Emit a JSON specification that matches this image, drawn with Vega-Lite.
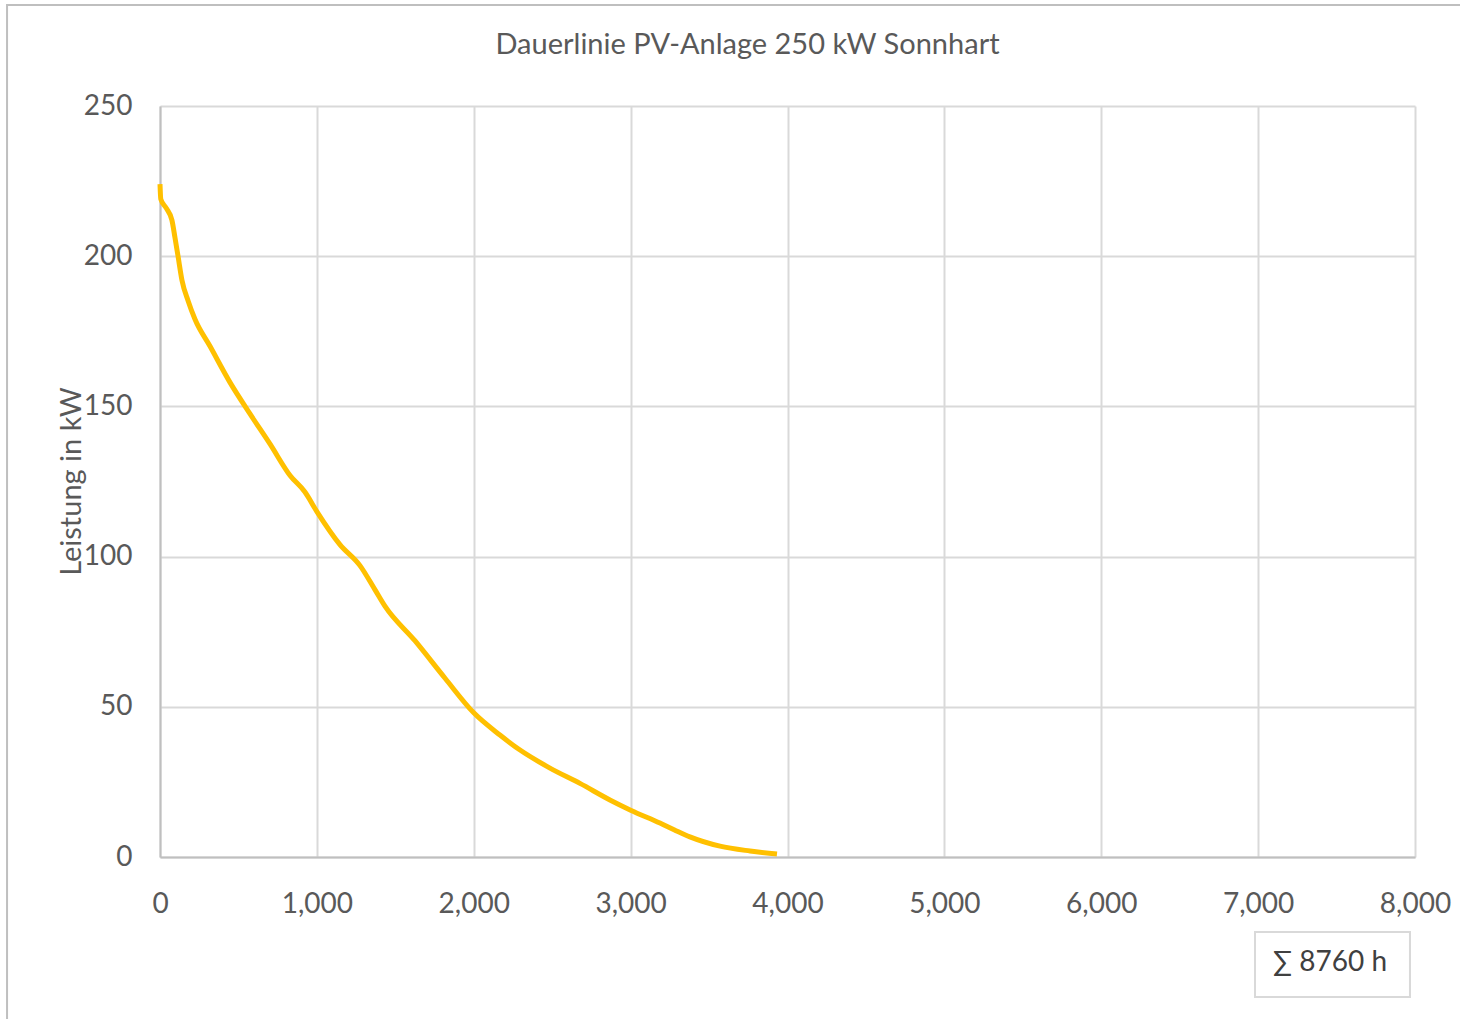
{
  "$schema": "https://vega.github.io/schema/vega-lite/v6.json",
  "width": 1255,
  "height": 751,
  "autosize": {"type": "none"},
  "padding": {"left": 160, "top": 106, "right": 45, "bottom": 162},
  "background": "white",
  "config": {
    "font": "Lato",
    "view": {"stroke": null},
    "axis": {"labelFont": "Lato", "titleFont": "Lato", "labelColor": "#595959", "titleColor": "#595959", "labelFontSize": 28, "titleFontSize": 29, "titleFontWeight": "normal", "gridColor": "#d9d9d9", "gridWidth": 2, "ticks": false, "domainColor": "#bfbfbf", "domainWidth": 2, "labelFlush": false}
  },
  "title": {"text": "Dauerlinie PV-Anlage 250 kW Sonnhart", "font": "Lato", "fontSize": 29, "fontWeight": "normal", "color": "#595959", "anchor": "middle", "offset": -56, "dx": -40},
  "layer": [
    {
      "data": {"values": [
        {"h": 0, "kw": 224}, {"h": 5, "kw": 219}, {"h": 40, "kw": 216}, {"h": 76, "kw": 212},
        {"h": 96, "kw": 206}, {"h": 115, "kw": 200}, {"h": 140, "kw": 192}, {"h": 180, "kw": 185},
        {"h": 223, "kw": 179}, {"h": 319, "kw": 170}, {"h": 446, "kw": 158}, {"h": 574, "kw": 147.5},
        {"h": 701, "kw": 137.5}, {"h": 829, "kw": 127}, {"h": 924, "kw": 121.5}, {"h": 1000, "kw": 115},
        {"h": 1147, "kw": 104}, {"h": 1275, "kw": 97}, {"h": 1370, "kw": 89}, {"h": 1434, "kw": 83.5},
        {"h": 1625, "kw": 72}, {"h": 1817, "kw": 59.5}, {"h": 2000, "kw": 48}, {"h": 2167, "kw": 40.6},
        {"h": 2295, "kw": 35.6}, {"h": 2486, "kw": 29.6}, {"h": 2677, "kw": 24.5}, {"h": 2868, "kw": 19},
        {"h": 3000, "kw": 15.6}, {"h": 3187, "kw": 11.3}, {"h": 3280, "kw": 9}, {"h": 3378, "kw": 6.7},
        {"h": 3570, "kw": 3.6}, {"h": 3761, "kw": 2}, {"h": 3933, "kw": 1}
      ]},
      "mark": {"type": "line", "color": "#FFC000", "strokeWidth": 5, "interpolate": "monotone"},
      "encoding": {
        "x": {"field": "h", "type": "quantitative", "scale": {"domain": [0, 8000], "nice": false},
          "axis": {"title": null, "values": [0, 1000, 2000, 3000, 4000, 5000, 6000, 7000, 8000], "format": ",", "labelExpr": "format(datum.value, ',')", "labelPadding": 33, "grid": true}},
        "y": {"field": "kw", "type": "quantitative", "scale": {"domain": [0, 250], "nice": false},
          "axis": {"title": "Leistung in kW", "values": [0, 50, 100, 150, 200, 250], "labelPadding": 28, "titleX": -74, "titleY": 375, "grid": true}}
      }
    },
    {
      "data": {"values": [{"a": 0}]},
      "mark": {"type": "rect", "clip": false, "fill": null, "stroke": "#bfbfbf", "strokeWidth": 2},
      "encoding": {
        "x": {"datum": -975, "type": "quantitative", "axis": {"format": ",", "labelExpr": "format(datum.value, ',')"}},
        "x2": {"datum": 8600},
        "y": {"datum": 283.6, "type": "quantitative"},
        "y2": {"datum": -70}
      }
    },
    {
      "data": {"values": [{"label": "∑ 8760 h"}]},
      "mark": {"type": "rect", "clip": false, "fill": "white", "stroke": "#d9d9d9", "strokeWidth": 2},
      "encoding": {
        "x": {"datum": 6980, "type": "quantitative", "axis": {"format": ",", "labelExpr": "format(datum.value, ',')"}},
        "x2": {"datum": 7968},
        "y": {"datum": -25, "type": "quantitative"},
        "y2": {"datum": -46.6}
      }
    },
    {
      "data": {"values": [{"label": "∑ 8760 h"}]},
      "mark": {"type": "text", "clip": false, "font": "Lato", "fontSize": 28, "color": "#404040", "align": "center", "baseline": "middle"},
      "encoding": {
        "x": {"datum": 7458, "type": "quantitative", "axis": {"format": ",", "labelExpr": "format(datum.value, ',')"}},
        "y": {"datum": -35.3, "type": "quantitative"},
        "text": {"field": "label"}
      }
    }
  ]
}
